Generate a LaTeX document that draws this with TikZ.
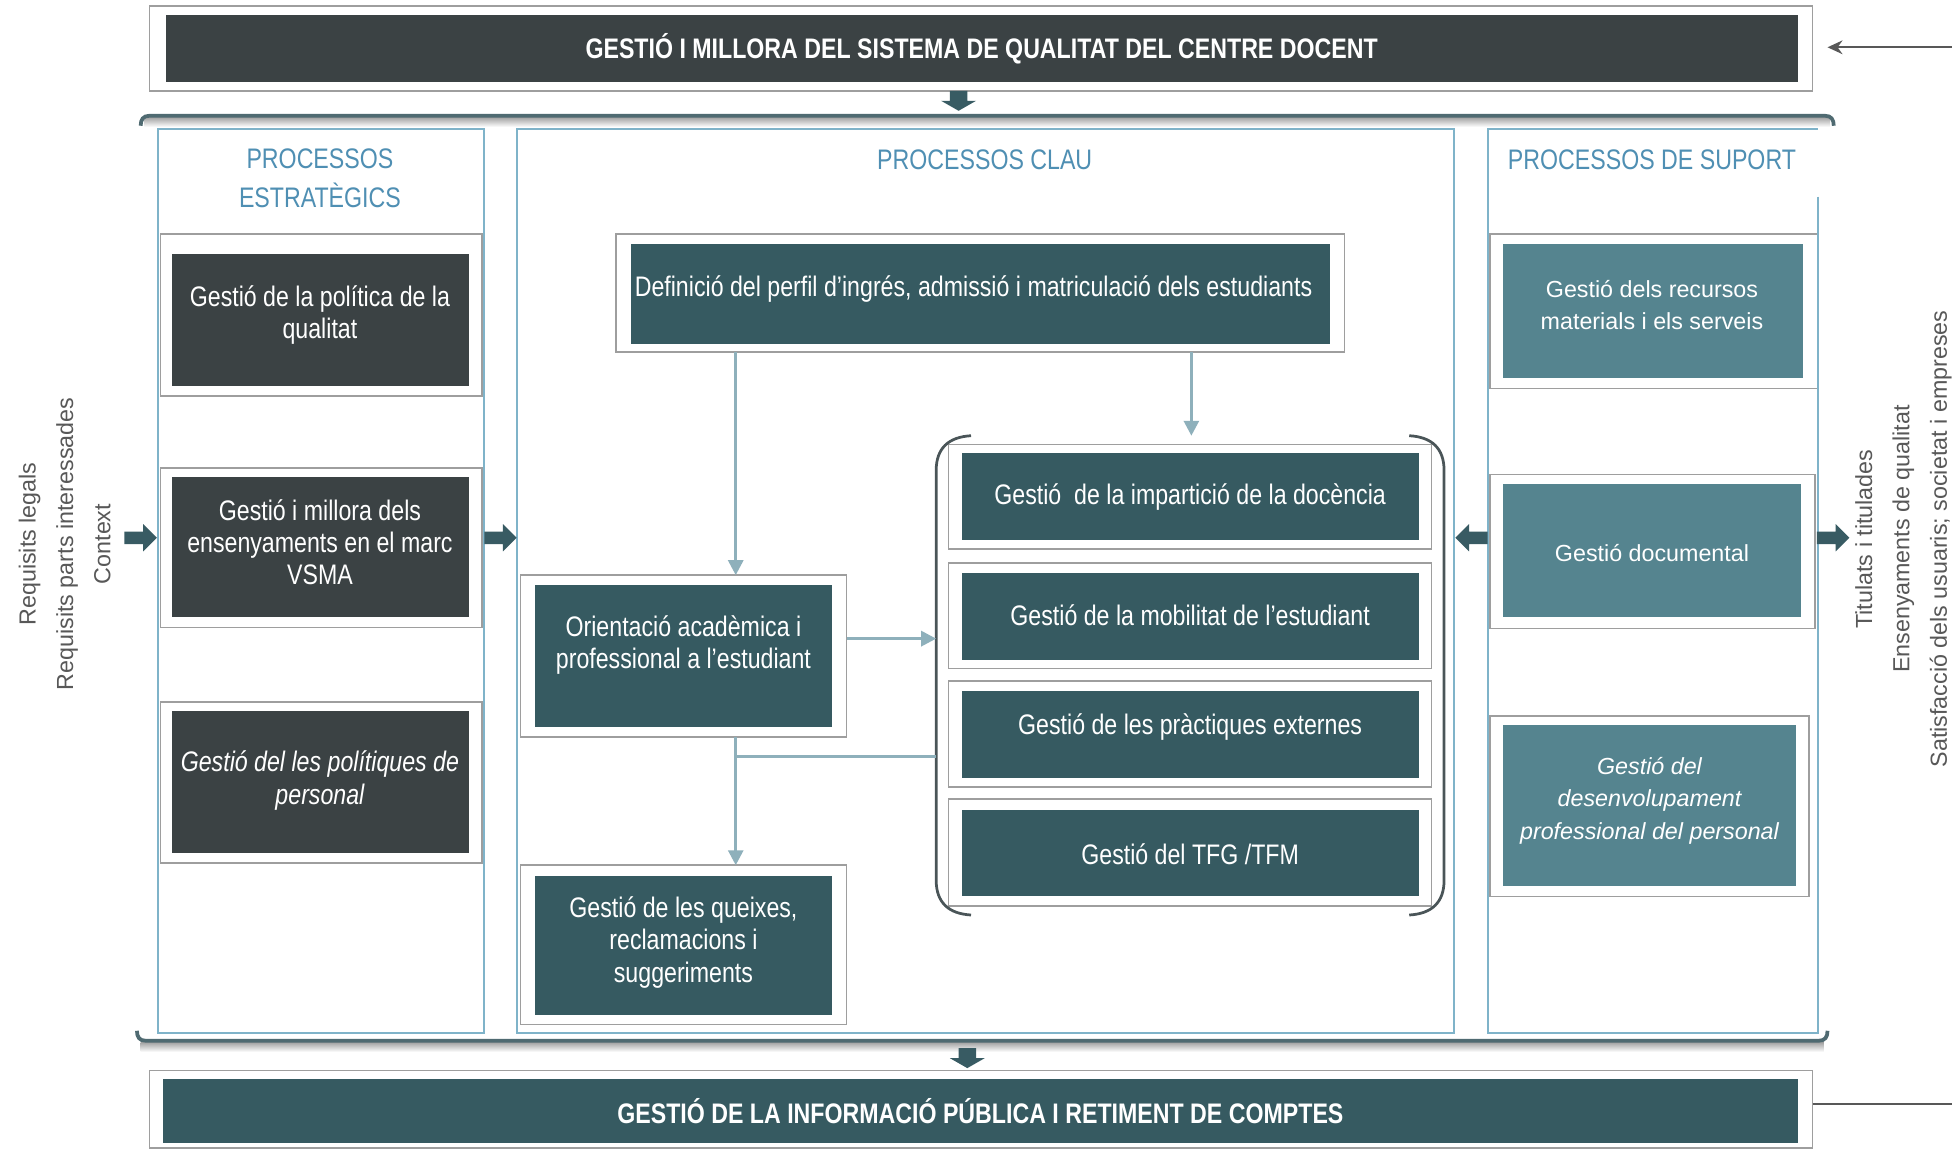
\documentclass[tikz,border=0pt]{standalone}
\usepackage{fontspec}
\setmainfont{Liberation Sans}[FakeStretch=0.82]
\newfontfamily\regfont{Liberation Sans}
\usetikzlibrary{arrows.meta,calc}
\definecolor{cdark}{HTML}{3B4244}
\definecolor{cteal}{HTML}{365A61}
\definecolor{csupp}{HTML}{55848F}
\definecolor{ccol}{HTML}{7FB3C9}
\definecolor{ctitle}{HTML}{4F8FB3}
\definecolor{cconn}{HTML}{8EB0BB}
\definecolor{cblock}{HTML}{385B63}
\definecolor{cbox}{HTML}{9E9E9E}
\definecolor{cbrk}{HTML}{4F6A71}
\definecolor{cside}{HTML}{585858}
\definecolor{cgrp}{HTML}{4A5558}
\newcommand\txtN{\fontsize{22.7}{26}\selectfont}
\newcommand\txtR{\regfont\fontsize{18.7}{26}\selectfont}
\newcommand\txtS{\regfont\fontsize{18.7}{30}\selectfont}
\newcommand\txtT{\fontsize{22.7}{31}\selectfont}
\begin{document}
\begin{tikzpicture}[x=1pt,y=-1pt,
  every node/.style={inner sep=0pt,outer sep=0pt},
  sz/.style 2 args={minimum width=#1,minimum height=#2},
  outerbox/.style={draw=cbox,line width=1.3pt,fill=white},
  darkbox/.style={fill=cdark},
  tealbox/.style={fill=cteal},
  suppbox/.style={fill=csupp},
  boxtext/.style={text=white,align=center,font=\txtN},
  supptext/.style={text=white,align=center,font=\txtR},
  column/.style={draw=ccol,line width=1.6pt},
  coltitle/.style={text=ctitle,align=center,font=\txtT},
  conn/.style={draw=cconn,line width=2.4pt,-{Triangle[width=12pt,length=12pt]}},
  connline/.style={draw=cconn,line width=2.4pt},
  sidetext/.style={text=cside,align=center,font=\txtS,rotate=90},
  brk/.style={draw=cbrk,line width=3pt},
  grpbrk/.style={draw=cgrp,line width=2.2pt},
  blockR/.pic={\fill[cblock] (-13,-5) -- (2,-5) -- (2,-11) -- (13,0) -- (2,11) -- (2,5) -- (-13,5) -- cycle;},
  blockD/.pic={\fill[cblock] (-7,-8) -- (7,-8) -- (7,0) -- (14,0) -- (0,8) -- (-14,0) -- (-7,0) -- cycle;},
]
\useasboundingbox (0,0) rectangle (1568,923);
\fill[white] (0,0) rectangle (1568,923);

% ---------- top bar
\node[outerbox,sz={1336}{68}] (topo) at (788,39) {};
\node[darkbox,sz={1311}{54},text=white,font=\bfseries\txtN] (top) at (788.5,39) {GESTIÓ I MILLORA DEL SISTEMA DE QUALITAT DEL CENTRE DOCENT};
\coordinate (inR) at (1568,38);
\draw[draw=cside,line width=1.6pt,shorten >=12pt,-{Stealth[length=12pt,width=11pt]}] (inR) -- (topo.east |- inR);
\pic at (770,81) {blockD};

% ---------- brackets
\shade[top color=black!35,bottom color=white] (116,94.5) rectangle (1470,102);
\draw[brk] (113,101) .. controls (113,96) and (115,93) .. (120,93) -- (1466,93) .. controls (1471,93) and (1473,96) .. (1473,101);
\shade[top color=black!35,bottom color=white] (113,837.5) rectangle (1465,845);
\draw[brk] (110,828) .. controls (110,833) and (112,836) .. (117,836) -- (1461,836) .. controls (1466,836) and (1468,833) .. (1468,828);

% ---------- left column items
\node[outerbox,sz={258}{130}] (l1o) at (258,253) {};
\node[darkbox,sz={239}{106}] (l1) at (257.5,257) {};
\node[outerbox,sz={258}{128}] (l2o) at (258,440) {};
\node[darkbox,sz={239}{113}] (l2) at (257.5,439.5) {};
\node[outerbox,sz={258}{129}] (l3o) at (258,628.5) {};
\node[darkbox,sz={239}{114}] (l3) at (257.5,628) {};

% ---------- centre items
\node[outerbox,sz={585}{95}] (defo) at (787.5,235.5) {};
\node[tealbox,sz={561}{80}] (def) at (787.5,236) {};
\node[outerbox,sz={262}{130}] (orio) at (549,527) {};
\node[tealbox,sz={238}{114}] (ori) at (549,527) {};
\node[outerbox,sz={262}{128}] (queo) at (549,759) {};
\node[tealbox,sz={238}{111}] (que) at (549,759.5) {};

\node[sz={408}{385}] (grp) at (956,542.5) {};
\node[outerbox,sz={388}{84}] (impo) at (956,399) {};
\node[tealbox,sz={367}{70}] (imp) at (956.5,399) {};
\node[outerbox,sz={388}{85}] (mobo) at (956,494.5) {};
\node[tealbox,sz={367}{70}] (mob) at (956.5,495) {};
\node[outerbox,sz={388}{85}] (prao) at (956,589.5) {};
\node[tealbox,sz={367}{70}] (pra) at (956.5,590) {};
\node[outerbox,sz={388}{86}] (tfgo) at (956,685) {};
\node[tealbox,sz={367}{69}] (tfg) at (956.5,685.5) {};
\draw[grpbrk] ($(grp.north west)+(28,0)$) .. controls ($(grp.north west)+(10,1)$) and ($(grp.north west)+(0,10)$) .. ($(grp.north west)+(0,28)$)
  -- ($(grp.south west)+(0,-28)$) .. controls ($(grp.south west)+(0,-10)$) and ($(grp.south west)+(10,-1)$) .. ($(grp.south west)+(28,0)$);
\draw[grpbrk] ($(grp.north east)+(-28,0)$) .. controls ($(grp.north east)+(-10,1)$) and ($(grp.north east)+(0,10)$) .. ($(grp.north east)+(0,28)$)
  -- ($(grp.south east)+(0,-28)$) .. controls ($(grp.south east)+(0,-10)$) and ($(grp.south east)+(-10,-1)$) .. ($(grp.south east)+(-28,0)$);

% ---------- right items
\node[outerbox,sz={263}{124}] (reco) at (1328.5,250) {};
\node[suppbox,sz={241}{108}] (rec) at (1327.5,250) {};
\node[outerbox,sz={261}{124}] (doco) at (1327.5,443) {};
\node[suppbox,sz={240}{107}] (doc) at (1327,442.5) {};
\node[outerbox,sz={256}{145}] (deso) at (1325,647.5) {};
\node[suppbox,sz={236}{130}] (des) at (1325,647) {};

% ---------- columns
\node[column,sz={262}{726}] (colL) at (258,467) {};
\node[column,sz={753}{726}] (colC) at (791.5,467) {};
\node[sz={265}{726}] (colR) at (1327.5,467) {};
\draw[draw=ccol,line width=1.6pt] ($(colR.north east)+(0,54)$) -- (colR.south east) -- (colR.south west) -- (colR.north west) -- (colR.north east);

% ---------- titles
\node[coltitle] (tL) at (257,143) {PROCESSOS\\ESTRATÈGICS};
\node[coltitle] (tC) at (791,128) {PROCESSOS CLAU};
\node[coltitle] (tR) at (1327,128) {PROCESSOS DE SUPORT};

% ---------- texts
\node[boxtext] (l1t) at (257,253) {Gestió de la política de la\\qualitat};
\node[boxtext] (l2t) at (257,435.5) {Gestió i millora dels\\ensenyaments en el marc\\VSMA};
\node[boxtext,font=\txtN\itshape] (l3t) at (257,627) {Gestió del les polítiques de\\personal};
\node[boxtext] (deft) at (782,232) {Definició del perfil d’ingrés, admissió i matriculació dels estudiants};
\node[boxtext] (orit) at (549,518) {Orientació acadèmica i\\professional a l’estudiant};
\node[boxtext] (quet) at (549,757) {Gestió de les queixes,\\reclamacions i\\suggeriments};
\node[boxtext] (impt) at (956,399) {Gestió~ de la impartició de la docència};
\node[boxtext] (mobt) at (956,494) {Gestió de la mobilitat de l’estudiant};
\node[boxtext] (prat) at (956,584) {Gestió de les pràctiques externes};
\node[boxtext] (tfgt) at (956,686) {Gestió del TFG /TFM};
\node[supptext] (rect) at (1327,245) {Gestió dels recursos\\materials i els serveis};
\node[supptext] (doct) at (1327,444) {Gestió documental};
\node[supptext,font=\txtR\itshape] (dest) at (1325,643) {Gestió del\\desenvolupament\\professional del personal};

% ---------- connectors
\coordinate (cx1) at (591,0);
\coordinate (cx2) at (957,0);
\coordinate (cy3) at (0,513);
\coordinate (cy5) at (0,608);
\draw[conn] (defo.south -| cx1) -- (orio.north -| cx1);
\draw[conn] (defo.south -| cx2) -- (grp.north -| cx2);
\draw[conn] (orio.east |- cy3) -- (grp.west |- cy3);
\draw[conn] (orio.south -| cx1) -- (queo.north -| cx1);
\draw[connline] (cx1 |- cy5) -- (grp.west |- cy5);

% ---------- block arrows
\pic at (113,432) {blockR};
\pic at (402,432) {blockR};
\pic[xscale=-1] at (1182,432) {blockR};
\pic at (1472.5,432) {blockR};

% ---------- side texts
\node[sidetext] (inTxt) at (52,437) {Requisits legals\\Requisits parts interessades\\Context};
\node[sidetext] (outTxt) at (1529,433) {Titulats i titulades\\Ensenyaments de qualitat\\Satisfacció dels usuaris; societat i empreses};

% ---------- bottom bar
\node[outerbox,sz={1336}{62}] (boto) at (788,891) {};
\node[tealbox,sz={1313}{51},text=white,font=\bfseries\txtN] (bot) at (787.5,892.5) {GESTIÓ DE LA INFORMACIÓ PÚBLICA I RETIMENT DE COMPTES};
\pic at (777,850) {blockD};
\coordinate (outB) at (1568,887);
\draw[draw=cside,line width=1.6pt] (boto.east |- outB) -- (outB);
\end{tikzpicture}
\end{document}
